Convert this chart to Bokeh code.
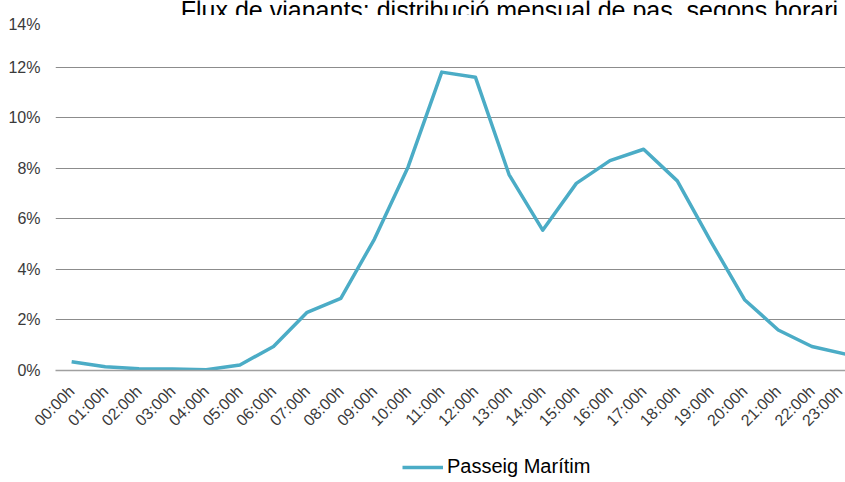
import math
from bokeh.plotting import figure
from bokeh.layouts import column
from bokeh.models import (FixedTicker, Label, Legend, LegendItem, NumeralTickFormatter,
                          Range1d)
from bokeh.embed import file_html
from bokeh.resources import INLINE

hours = ["00:00h", "01:00h", "02:00h", "03:00h", "04:00h", "05:00h", "06:00h", "07:00h",
         "08:00h", "09:00h", "10:00h", "11:00h", "12:00h", "13:00h", "14:00h", "15:00h",
         "16:00h", "17:00h", "18:00h", "19:00h", "20:00h", "21:00h", "22:00h", "23:00h"]
passeig_maritim = [0.35, 0.15, 0.07, 0.06, 0.03, 0.22, 0.95, 2.30, 2.85, 5.20, 8.05, 11.80,
                   11.60, 7.75, 5.55, 7.40, 8.30, 8.75, 7.50, 5.10, 2.80, 1.60, 0.95, 0.65]
y_ticks = [0, 2, 4, 6, 8, 10, 12, 14]
title_text = "Flux de vianants: distribució mensual de pas, segons  horari"
series_name = "Passeig Marítim"

FONT = "Liberation Sans"
TXT = "#3a3a3a"
LINE_COLOR = "#4bacc6"

xs = list(range(len(hours)))
ys = [v / 100 for v in passeig_maritim]


def strip(height, xr, yr):
    f = figure(width=845, height=height, output_backend="svg", toolbar_location=None,
               x_range=xr, y_range=yr, min_border=0, x_axis_type=None, y_axis_type=None)
    f.outline_line_color = None
    f.xgrid.grid_line_color = None
    f.ygrid.grid_line_color = None
    return f


# title strip (the title is cut off at the top, as in the reference)
top = strip(15, Range1d(0, 845), Range1d(0, 15))
top.add_layout(Label(x=134, y=6, text=title_text, text_font=FONT, text_font_size="25px",
                     text_color="black", text_baseline="alphabetic", text_align="left"))

p = figure(width=845, height=425, output_backend="svg", toolbar_location=None,
           x_range=Range1d(-0.48, 23.0), y_range=Range1d(0, 0.14),
           min_border_left=55, min_border_right=0, min_border_top=1, min_border_bottom=70)
p.outline_line_color = None
p.background_fill_color = "white"
p.border_fill_color = "white"

r = p.line(xs, ys, line_color=LINE_COLOR, line_width=3.5, line_join="round")

# x axis
p.xaxis.ticker = FixedTicker(ticks=xs)
p.xaxis.major_label_overrides = {i: h for i, h in enumerate(hours)}
p.xaxis.major_label_orientation = math.pi / 4
p.xaxis.major_label_text_font = FONT
p.xaxis.major_label_text_font_size = "16px"
p.xaxis.major_label_text_color = TXT
p.xaxis.major_tick_line_color = None
p.xaxis.major_tick_out = 0
p.xaxis.major_tick_in = 0
p.xaxis.minor_tick_line_color = None
p.xaxis.axis_line_color = "#a0a0a0"
p.xaxis.axis_line_width = 1.5
p.xaxis.major_label_standoff = 18

# y axis
p.yaxis.ticker = FixedTicker(ticks=[t / 100 for t in y_ticks])
p.yaxis.formatter = NumeralTickFormatter(format="0%")
p.yaxis.major_label_text_font = FONT
p.yaxis.major_label_text_font_size = "16px"
p.yaxis.major_label_text_color = TXT
p.yaxis.major_tick_line_color = None
p.yaxis.major_tick_out = 0
p.yaxis.major_tick_in = 0
p.yaxis.minor_tick_line_color = None
p.yaxis.axis_line_color = None
p.yaxis.major_label_standoff = 15

p.xgrid.grid_line_color = None
p.ygrid.grid_line_color = "#8c8c8c"
p.ygrid.grid_line_width = 1

# legend strip below the chart
leg = strip(42, Range1d(100, 101), Range1d(100, 101))
r2 = leg.line(xs, ys, line_color=LINE_COLOR, line_width=3.5)
legend = Legend(items=[LegendItem(label=series_name, renderers=[r2])],
                location=(347, 4), glyph_width=41, glyph_height=20,
                label_text_font=FONT, label_text_font_size="20px", label_text_color="black",
                label_standoff=4, padding=0, margin=0, border_line_color=None,
                background_fill_alpha=0)
leg.add_layout(legend)

layout = column(top, p, leg, spacing=0)
open("out.html", "w").write(file_html(layout, INLINE))
